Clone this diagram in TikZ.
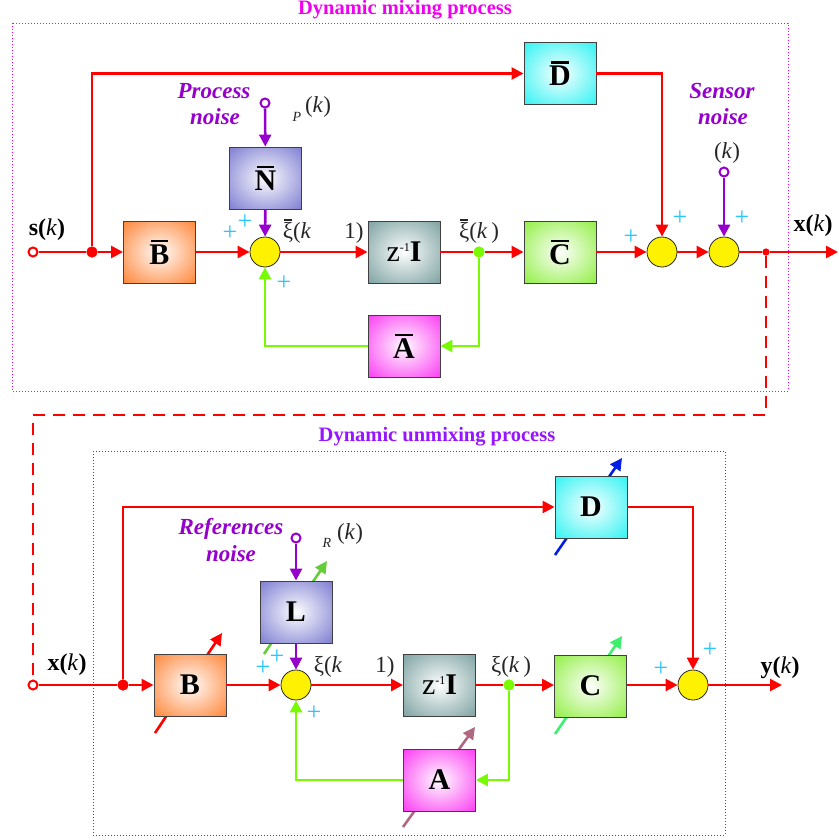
\documentclass[tikz,border=0pt]{standalone}
\usepackage{fontspec}
\setmainfont{Liberation Serif}
\usetikzlibrary{arrows.meta}

% palette
\definecolor{wirered}{RGB}{255,0,0}
\definecolor{noisepurple}{RGB}{150,0,205}
\definecolor{loopgreen}{RGB}{120,250,0}
\definecolor{signcyan}{RGB}{40,200,255}
\definecolor{mixmag}{RGB}{240,0,240}
\definecolor{unmixviolet}{RGB}{150,20,255}
\definecolor{unmixframe}{RGB}{100,40,255}
\definecolor{fillB}{RGB}{255,105,10}
\definecolor{fillN}{RGB}{95,95,200}
\definecolor{fillZ}{RGB}{95,140,140}
\definecolor{fillC}{RGB}{120,235,25}
\definecolor{fillD}{RGB}{0,240,240}
\definecolor{fillA}{RGB}{250,15,240}
\definecolor{tuneL}{RGB}{100,205,55}
\definecolor{tuneD}{RGB}{0,30,230}
\definecolor{tuneC}{RGB}{60,240,110}
\definecolor{tuneA}{RGB}{176,104,128}

% radial glow for the blocks: light centre, saturated rim
\newcommand\mkglow[2]{%
  \pgfdeclareradialshading{#1}{\pgfpoint{0bp}{0bp}}%
    {color(0bp)=(white); color(6bp)=(white!85!#2); color(44bp)=(#2); color(50bp)=(#2)}}
\mkglow{glowB}{fillB}
\mkglow{glowN}{fillN}
\mkglow{glowZ}{fillZ}
\mkglow{glowC}{fillC}
\mkglow{glowD}{fillD}
\mkglow{glowA}{fillA}

% bar over a symbol: #1 rule thickness, #2 gap, #3 symbol
\newcommand\barover[3]{\begingroup\setbox0\hbox{#3}%
  \vbox{\offinterlineskip\hbox to\wd0{\hss\vrule width 0.82\wd0 height #1 depth 0pt\hss}\kern#2\box0}\endgroup}
\newcommand\bbar[1]{\barover{2.4pt}{2.4pt}{\textbf{#1}}}
\newcommand\xbar[1]{\barover{1.1pt}{1.4pt}{#1}}
\newcommand\zinv{z\raisebox{10pt}{\fontsize{12}{12}\selectfont -1}\textbf{I}}
\newcommand\kk{\textit{k}}
\newcommand\kn{\textmd{\textit{k}}}

\begin{document}
\begin{tikzpicture}[x=1pt,y=-1pt,
  blk/.style={draw=black!75, line width=0.9pt, minimum width=72pt, minimum height=62pt,
    inner sep=0pt, shade, font=\fontsize{30}{32}\selectfont},
  sumc/.style={circle, draw=black!85, fill=yellow, line width=0.8pt, minimum size=30pt, inner sep=0pt},
  dot/.style={circle, inner sep=0pt, minimum size=11pt},
  openpt/.style={circle, fill=white, line width=2pt, minimum size=9pt, inner sep=0pt},
  wire/.style={line width=2.6pt, wirered},
  tipd/.style={-{Triangle[length=12pt,width=12pt]}},
  nwire/.style={line width=2.6pt, noisepurple},
  gwire/.style={line width=2.6pt, loopgreen},
  tune/.style={line width=2.6pt, -{Triangle[length=12pt,width=12pt]}},
  lbl/.style={font=\fontsize{23}{25}\selectfont, inner sep=0pt, text=black!85},
  sub/.style={font=\fontsize{14}{14}\selectfont\itshape, inner sep=0pt, text=black!85},
  sig/.style={font=\fontsize{24}{26}\selectfont\bfseries, inner sep=0pt},
  plus/.style={font=\fontsize{26}{26}\selectfont, text=signcyan, inner sep=0pt},
  nlbl/.style={font=\fontsize{23}{25}\selectfont\bfseries\itshape, text=noisepurple, inner sep=0pt},
  ttl/.style={font=\fontsize{20.5}{22}\selectfont\bfseries, inner sep=0pt}
]
\useasboundingbox (0,0) rectangle (838,840);

% ---------- frames and titles ----------
\draw[mixmag, line width=0.9pt, dash pattern=on 1pt off 2pt] (12,23) rectangle (788,391);
\draw[unmixframe, line width=0.9pt, dash pattern=on 1pt off 2pt] (93,451) rectangle (725,835);
\node[ttl, text=mixmag] (tmix) at (405,10) {Dynamic mixing process};
\node[ttl, text=unmixviolet] (tunmix) at (437,437) {Dynamic unmixing process};

% ---------- adaptation arrows (behind the adaptive blocks) ----------
\coordinate (bt0) at (155,733); \coordinate (bt1) at (222,633);
\coordinate (lt0) at (264,654); \coordinate (lt1) at (327,561);
\coordinate (dt0) at (555,555); \coordinate (dt1) at (622,458);
\coordinate (ct0) at (555,734); \coordinate (ct1) at (622,636);
\coordinate (at0) at (403,827); \coordinate (at1) at (475,727);
\draw[tune, wirered] (bt0) -- (bt1);
\draw[tune, tuneL] (lt0) -- (lt1);
\draw[tune, tuneD] (dt0) -- (dt1);
\draw[tune, tuneC] (ct0) -- (ct1);
\draw[tune, tuneA] (at0) -- (at1);

% ---------- mixing model ----------
\node[openpt, draw=wirered] (sin) at (33,252) {};
\node[dot, fill=wirered] (j1) at (92,252) {};
\node[blk, shading=glowB] (Bb) at (159.5,252) {\bbar{B}};
\node[sumc] (s1) at (265,252) {};
\node[blk, shading=glowN] (Nb) at (265.5,178) {\bbar{N}};
\node[openpt, draw=noisepurple] (pn) at (265,103) {};
\node[blk, shading=glowZ] (Zb) at (404,252) {\zinv};
\node[dot, fill=loopgreen] (gj) at (479,252) {};
\node[blk, shading=glowC] (Cb) at (560,252) {\bbar{C}};
\node[blk, shading=glowD] (Db) at (560,73.5) {\bbar{D}};
\node[blk, shading=glowA] (Ab) at (404,346) {\bbar{A}};
\node[sumc] (s2) at (662,252) {};
\node[sumc] (s3) at (724,252) {};
\node[openpt, draw=noisepurple] (sn) at (724,172) {};
\node[dot, fill=wirered, minimum size=7pt] (oj) at (766,252) {};
\coordinate (xout) at (838,252);
\coordinate (dk) at (33,415);

\draw[wire] (sin) -- (j1);
\draw[wire, tipd] (j1) -- (Bb);
\draw[wire, tipd] (j1) |- (Db);
\draw[wire, tipd] (Bb) -- (s1);
\draw[wire, tipd] (s1) -- (Zb);
\draw[wire] (Zb) -- (gj);
\draw[wire, tipd] (gj) -- (Cb);
\draw[wire, tipd] (Cb) -- (s2);
\draw[wire, tipd] (Db) -| (s2);
\draw[wire, tipd] (s2) -- (s3);
\draw[wire] (s3) -- (oj);
\draw[wire, tipd] (oj) -- (xout);
\draw[nwire, tipd] (pn) -- (Nb);
\draw[nwire, tipd] (Nb) -- (s1);
\draw[nwire, tipd] (sn) -- (s3);
\draw[gwire, tipd] (gj) |- (Ab);
\draw[gwire, tipd] (Ab) -| (s1);
\node[dot, fill=wirered] at (j1) {};
\node[dot, fill=loopgreen] at (gj) {};

% labels, mixing part
\node[sig] (ls) at (47,230) {s(\kn)};
\node[nlbl] (lp1) at (214,91) {Process};
\node[nlbl] (lp2) at (215,117) {noise};
\node[sub] (lpP) at (297,117) {P};
\node[lbl] (lpk) at (318,107) {(\kk)};
\node[plus] (p1) at (230,233) {+};
\node[plus] (p2) at (245,222) {+};
\node[plus] (p3) at (284,283) {+};
\node[lbl, anchor=base] (lx1) at (297,238) {\xbar{ξ}(\kk};
\node[lbl, anchor=base] (lx2) at (354,238) {1)};
\node[lbl, anchor=base] (lx3) at (479,238) {\xbar{ξ}(\kk\,)};
\node[nlbl] (ls1) at (722,91) {Sensor};
\node[nlbl] (ls2) at (723,117) {noise};
\node[lbl] (lsk) at (727,153) {(\kk)};
\node[plus] (p4) at (631,237) {+};
\node[plus] (p5) at (680,218) {+};
\node[plus] (p6) at (742,218) {+};
\node[sig] (lxo) at (813,226) {x(\kn)};

% ---------- separating model ----------
\node[openpt, draw=wirered] (xin) at (33,685) {};
\node[dot, fill=wirered] (j2) at (123,685) {};
\node[blk, shading=glowB] (B) at (190,685) {\textbf{B}};
\node[sumc] (t1) at (296,685) {};
\node[blk, shading=glowN] (L) at (296,612) {\textbf{L}};
\node[openpt, draw=noisepurple] (rn) at (296,538) {};
\node[blk, shading=glowZ] (Z) at (439.5,685) {\zinv};
\node[dot, fill=loopgreen] (gj2) at (509,685) {};
\node[blk, shading=glowC] (C) at (590.5,686) {\textbf{C}};
\node[blk, shading=glowD] (D) at (591,507) {\textbf{D}};
\node[blk, shading=glowA] (A) at (439.5,780) {\textbf{A}};
\node[sumc] (t2) at (693,685) {};
\coordinate (yout) at (782,685);

% link from the mixtures to the separator input
\draw[wirered, line width=2pt, dash pattern=on 12pt off 8pt] (oj) |- (dk) -- (xin);
\node[dot, fill=wirered, minimum size=7pt] at (oj) {};

\draw[wire] (xin) -- (j2);
\draw[wire, tipd] (j2) -- (B);
\draw[wire, tipd] (j2) |- (D);
\draw[wire, tipd] (B) -- (t1);
\draw[wire, tipd] (t1) -- (Z);
\draw[wire] (Z) -- (gj2);
\draw[wire, tipd] (gj2) -- (C.west |- gj2);
\draw[wire, tipd] (C.east |- t2) -- (t2);
\draw[wire, tipd] (D) -| (t2);
\draw[wire, tipd] (t2) -- (yout);
\draw[nwire, tipd] (rn) -- (L);
\draw[nwire, tipd] (L) -- (t1);
\draw[gwire, tipd] (gj2) |- (A);
\draw[gwire, tipd] (A) -| (t1);
\node[dot, fill=wirered] at (j2) {};
\node[dot, fill=loopgreen] at (gj2) {};

% labels, separating part
\node[sig] (lxi) at (67,665) {x(\kn)};
\node[nlbl] (lr1) at (231,529) {References};
\node[nlbl] (lr2) at (231,554) {noise};
\node[sub] (lrR) at (327,543) {R};
\node[lbl] (lrk) at (350,534) {(\kk)};
\node[plus] (q1) at (263,668) {+};
\node[plus] (q2) at (277,657) {+};
\node[plus] (q3) at (314,713) {+};
\node[lbl, anchor=base] (ly1) at (328,672) {ξ(\kk};
\node[lbl, anchor=base] (ly2) at (385,672) {1)};
\node[lbl, anchor=base] (ly3) at (511,672) {ξ(\kk\,)};
\node[plus] (q4) at (661,669) {+};
\node[plus] (q5) at (710,650) {+};
\node[sig] (lyo) at (780,668) {y(\kn)};
\end{tikzpicture}
\end{document}
